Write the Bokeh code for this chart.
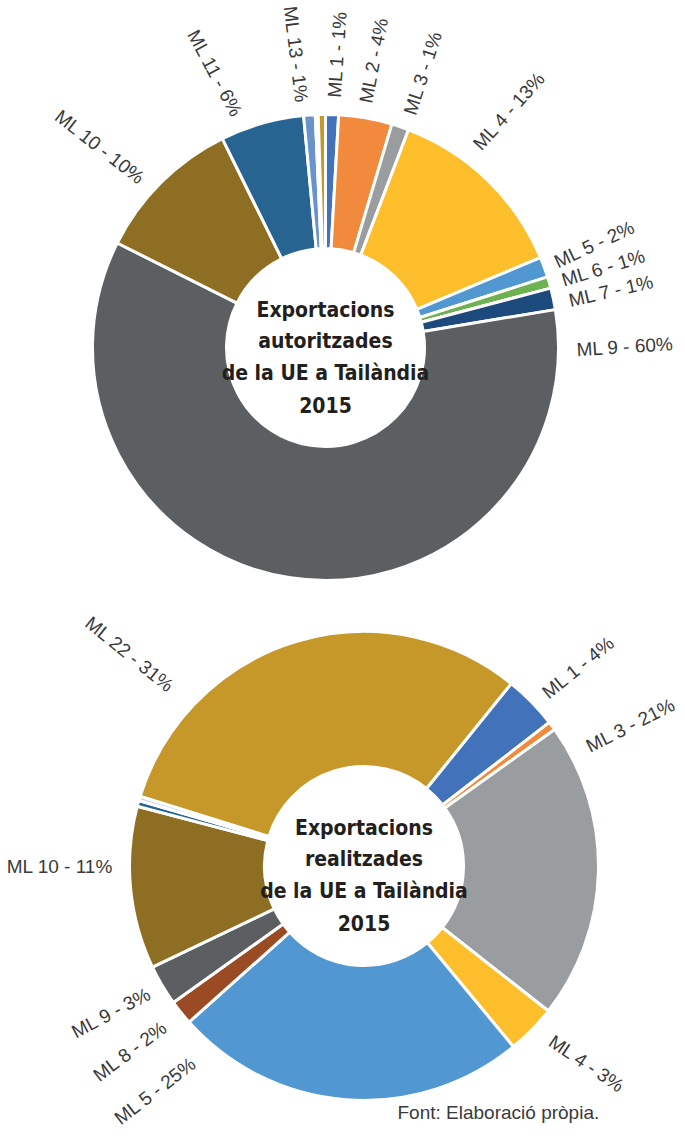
import math
from bokeh.plotting import figure
from bokeh.models import ColumnDataSource, Range1d
from bokeh.core.properties import value
from bokeh.embed import file_html
from bokeh.resources import INLINE

# ---------------- data ----------------
top_names = ["ML 1", "ML 2", "ML 3", "ML 4", "ML 5", "ML 6", "ML 7", "ML 9",
             "ML 10", "ML 11", "ML 13", "ML 15", "ML 22"]
top_values = [0.9, 3.7, 1.2, 12.9, 1.4, 0.8, 1.5, 60.0, 10.3, 5.8, 0.8, 0.2, 0.5]
top_pct = ["1%", "4%", "1%", "13%", "2%", "1%", "1%", "60%", "10%", "6%", "1%", "", ""]
top_title = ["Exportacions", "autoritzades", "de la UE a Tailàndia", "2015"]

bot_names = ["ML 1", "ML 2", "ML 3", "ML 4", "ML 5", "ML 8", "ML 9", "ML 10",
             "ML 11", "ML 13", "ML 22"]
bot_values = [3.7, 0.6, 20.5, 3.4, 24.4, 1.7, 2.8, 11.2, 0.4, 0.3, 31.0]
bot_pct = ["4%", "", "21%", "3%", "25%", "2%", "3%", "11%", "", "", "31%"]
bot_title = ["Exportacions", "realitzades", "de la UE a Tailàndia", "2015"]

source_note = "Font: Elaboració pròpia."

# ---------------- styles / layout ----------------
COLORS = {
    "ML 1": "#4273BA", "ML 2": "#F28A3E", "ML 3": "#9A9DA0", "ML 4": "#FDBE2B",
    "ML 5": "#5197D1", "ML 6": "#6DB150", "ML 7": "#1D4A7D", "ML 8": "#9A4B23",
    "ML 9": "#5B5F61", "ML 10": "#8E6E23", "ML 11": "#276492", "ML 13": "#6A93CC",
    "ML 15": "#BFC3C7", "ML 22": "#C6982A",
}
BOT_COLORS = dict(COLORS)
BOT_COLORS["ML 13"] = "#C8D3E3"

# label placement: name -> (clockwise angle from top in deg, radius, rotation deg)
top_label_layout = {
    "ML 1": (2.0, 250, 86), "ML 2": (9.3, 248, 79), "ML 3": (19.8, 248, 72),
    "ML 4": (37.0, 251, 48), "ML 5": (69.7, 245, 25), "ML 6": (74.2, 246, 17),
    "ML 7": (79.1, 248, 13), "ML 9": (90.5, 251, 3.5), "ML 10": (312.4, 248, -38),
    "ML 11": (339.2, 248, -62), "ML 13": (354.5, 246, -83),
}
bot_label_layout = {
    "ML 1": (46.5, 249, 39), "ML 3": (62.0, 253, 27), "ML 4": (132.9, 255, -34),
    "ML 5": (221.1, 259, 37.6), "ML 8": (231.4, 255, 37), "ML 9": (239.5, 249, 28),
    "ML 10": (270.0, 251, 0), "ML 22": (312.7, 262, -39),
}

W, H = 677, 1128
LABEL_FONT = value("Liberation Sans")
TITLE_FONT = value("DejaVu Sans Condensed")

p = figure(width=W, height=H, x_range=Range1d(0, W), y_range=Range1d(0, H),
           output_backend="svg", toolbar_location=None,
           x_axis_location=None, y_axis_location=None, min_border=0)
p.grid.visible = False
p.outline_line_color = None
p.background_fill_color = "white"
p.border_fill_color = "white"


def donut(cx, cy, r_in, r_out, names, values, colors, start_deg, pct, layout, title):
    total = float(sum(values))
    starts, ends = [], []
    cum = start_deg
    for v in values:
        th1 = cum
        th2 = cum + v / total * 360.0
        starts.append(math.radians(90.0 - th2))
        ends.append(math.radians(90.0 - th1))
        cum = th2
    src = ColumnDataSource(dict(
        x=[cx] * len(values), y=[cy] * len(values),
        start=starts, end=ends, color=[colors[n] for n in names], name=names,
    ))
    p.annular_wedge(x="x", y="y", inner_radius=r_in, outer_radius=r_out,
                    start_angle="start", end_angle="end", direction="anticlock",
                    fill_color="color", line_color="white", line_width=3,
                    source=src)

    lx, ly, lt, la, lal = [], [], [], [], []
    for n, pc in zip(names, pct):
        if n not in layout or not pc:
            continue
        th, r, rot = layout[n]
        lx.append(cx + r * math.sin(math.radians(th)))
        ly.append(cy + r * math.cos(math.radians(th)))
        lt.append(f"{n} - {pc}")
        la.append(math.radians(rot))
        lal.append("left" if th < 180 else "right")
    lsrc = ColumnDataSource(dict(x=lx, y=ly, text=lt, angle=la, align=lal))
    p.text(x="x", y="y", text="text", angle="angle", text_align="align",
           text_baseline="middle", text_font=LABEL_FONT, text_font_size="19px",
           text_color="#3a3a3a", source=lsrc)

    offs = [38, 7, -25, -57]
    tsrc = ColumnDataSource(dict(x=[cx] * len(title),
                                 y=[cy + o for o in offs], text=title))
    p.text(x="x", y="y", text="text", text_align="center",
           text_baseline="alphabetic", text_font=TITLE_FONT,
           text_font_size="21px", text_font_style="bold",
           text_color="#231F20", source=tsrc)


donut(325, 781, 99, 233, top_names, top_values, COLORS, 0.0, top_pct,
      top_label_layout, top_title)
donut(363.5, 262.5, 99.5, 234.5, bot_names, bot_values, BOT_COLORS, 38.9, bot_pct,
      bot_label_layout, bot_title)

p.text(x=[397], y=[16], text=[source_note], text_align="left",
       text_baseline="alphabetic", text_font=LABEL_FONT, text_font_size="19px",
       text_color="#3a3a3a")

open("out.html", "w").write(file_html(p, INLINE))
